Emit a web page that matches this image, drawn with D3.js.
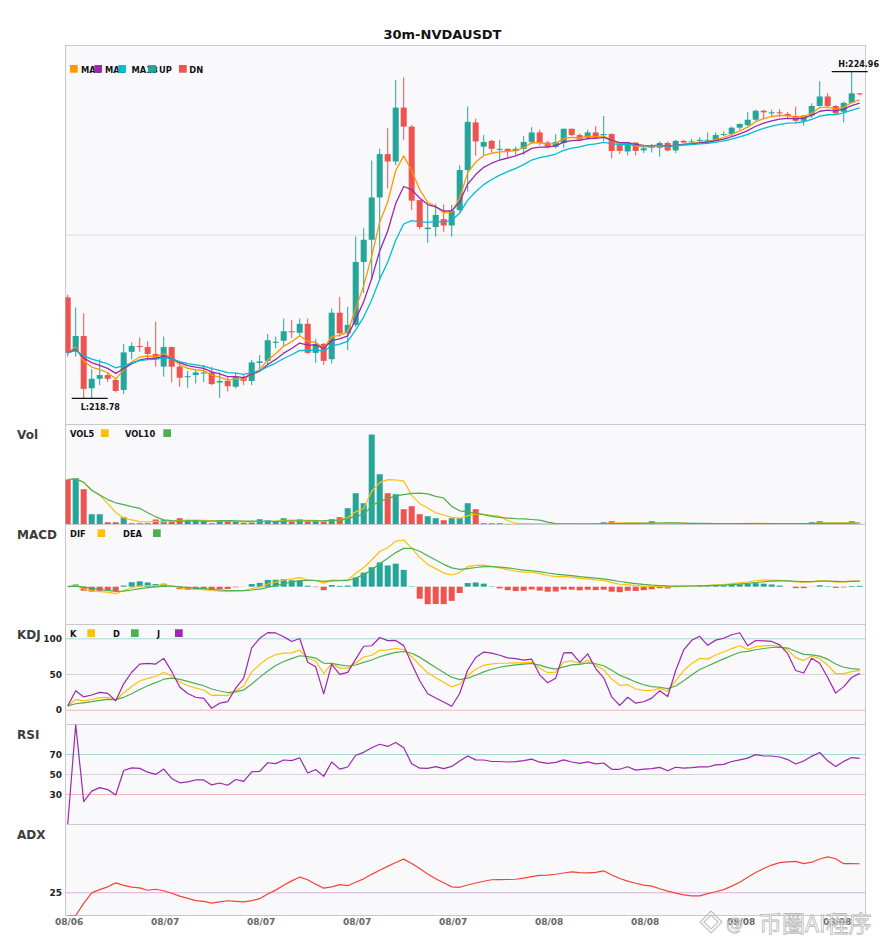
<!DOCTYPE html>
<html>
<head>
<meta charset="utf-8">
<script src="https://cdn.jsdelivr.net/npm/d3@7"></script>
<style>
  body { margin: 0; background: #fff; }
  text { font-family: "DejaVu Sans", sans-serif; }
</style>
</head>
<body>
<svg id="chart"></svg>
<script>
// 30m candles
const symbol = '30m-NVDAUSDT';
const opens = [220.69,219.66,219.96,218.97,219.15,219.22,219.13,218.94,219.66,219.77,
  219.75,219.62,219.38,219.75,219.38,219.18,219.22,219.25,219.27,219.08,
  219.11,219.00,219.17,219.11,219.45,219.49,219.83,219.87,220.05,220.02,
  220.19,219.64,219.81,219.52,220.40,220.01,220.17,221.36,221.78,222.58,
  223.40,223.26,224.28,223.92,222.53,221.98,222.02,222.17,222.05,222.34,
  223.10,224.00,223.54,223.65,223.48,223.50,223.46,223.50,223.63,223.81,
  223.62,223.54,223.61,223.88,223.76,223.71,223.81,223.76,223.78,223.57,
  223.45,223.62,223.47,223.52,223.52,223.61,223.47,223.65,223.62,223.65,
  223.65,223.65,223.76,223.78,223.90,223.95,224.05,224.22,224.17,224.19,
  224.16,224.12,224.03,224.13,224.31,224.49,224.31,224.20,224.37,224.55];
const highs = [220.74,220.50,220.39,219.33,219.52,219.27,219.16,219.81,219.84,219.93,
  219.86,220.23,219.95,219.76,219.47,219.30,219.33,219.41,219.38,219.27,
  219.19,219.27,219.22,219.51,219.60,220.00,219.95,220.29,220.26,220.29,
  220.29,219.90,219.83,220.48,220.70,220.51,221.84,222.00,223.28,223.50,
  223.89,224.80,224.85,223.95,222.53,222.47,222.46,222.45,222.44,223.19,
  224.30,224.07,223.76,223.67,223.67,223.50,223.54,223.74,223.91,223.86,
  223.65,223.78,223.88,223.88,223.79,223.86,223.93,224.12,223.79,223.57,
  223.62,223.62,223.54,223.59,223.64,223.64,223.67,223.67,223.69,223.72,
  223.81,223.81,223.83,223.92,223.98,224.20,224.24,224.24,224.24,224.25,
  224.20,224.30,224.14,224.36,224.78,224.55,224.33,224.39,224.96,224.55];
const lows = [219.57,219.57,218.78,218.78,219.03,219.09,218.89,218.86,219.52,219.66,
  219.54,219.38,219.19,219.08,219.00,218.98,219.06,219.09,219.03,218.79,
  218.91,218.97,219.03,219.03,219.33,219.41,219.73,219.76,219.92,219.95,
  219.62,219.45,219.41,219.44,219.95,219.69,220.13,220.77,221.02,221.05,
  222.75,223.19,223.67,222.34,221.98,221.72,221.84,221.93,221.84,222.31,
  222.69,223.37,223.38,223.43,223.29,223.35,223.38,223.38,223.59,223.57,
  223.52,223.51,223.52,223.74,223.65,223.67,223.69,223.64,223.32,223.40,
  223.38,223.38,223.42,223.43,223.35,223.45,223.42,223.61,223.61,223.61,
  223.62,223.64,223.74,223.74,223.86,223.92,224.03,224.06,224.11,224.10,
  224.08,223.98,223.94,224.08,224.30,224.28,224.15,224.00,224.36,224.51];
const closes = [219.64,219.96,218.96,219.15,219.22,219.15,218.92,219.65,219.77,219.75,
  219.62,219.54,219.75,219.38,219.17,219.20,219.27,219.27,219.05,219.11,
  219.01,219.19,219.11,219.46,219.48,219.88,219.85,220.05,220.03,220.19,
  219.64,219.81,219.49,220.40,220.01,220.17,221.36,221.78,222.58,223.40,
  223.26,224.28,223.92,222.52,222.02,222.01,222.25,222.05,222.33,223.10,
  224.01,223.64,223.63,223.50,223.50,223.46,223.50,223.63,223.81,223.61,
  223.54,223.63,223.88,223.76,223.68,223.81,223.71,223.78,223.46,223.46,
  223.62,223.46,223.51,223.54,223.61,223.47,223.65,223.62,223.64,223.67,
  223.67,223.76,223.78,223.90,223.97,224.05,224.22,224.19,224.19,224.17,
  224.12,224.03,224.13,224.31,224.49,224.31,224.17,224.37,224.55,224.53];
const volumes = [450,463,353,103,103,23,23,73,13,13,
  13,50,43,30,63,40,40,37,13,43,
  33,27,17,20,53,43,30,63,30,53,
  30,33,30,53,73,163,313,213,900,503,
  313,303,153,183,103,83,63,43,63,63,
  213,153,13,13,13,7,7,10,6,5,
  5,4,5,6,5,5,6,23,33,10,
  10,10,10,33,10,8,10,8,6,5,
  5,6,8,13,13,13,8,6,6,6,
  7,7,8,23,33,10,10,10,33,7];
const tickIndex = [0, 12, 24, 36, 48, 60, 72, 84, 96];
const tickLabels = ['08/06', '08/07', '08/07', '08/07', '08/07', '08/08', '08/08', '08/08', '08/08'];
const maPeriods = [5, 8, 13];
const maLabels = ['MA5', 'MA8', 'MA13'];
const volPeriods = [5, 10];
const volLabels = ['VOL5', 'VOL10'];
const macdPeriods = [8, 13, 5];
const macdLabels = ['DIF', 'DEA'];
const kdjLabels = ['K', 'D', 'J'];
const kdjTicks = [100, 50, 0];
const rsiTicks = [70, 50, 30];
const adxTicks = [25];
const panelNames = ['Vol', 'MACD', 'KDJ', 'RSI', 'ADX'];

const UP = '#26a69a', DN = '#ef5350';
const n = closes.length;

// ---- indicators
function ewm(arr, a) {
  let out = [];
  arr.forEach((v, i) => out.push(i === 0 ? v : a * v + (1 - a) * out[i - 1]));
  return out;
}
let ema = (arr, p) => ewm(arr, 2 / (p + 1));
let sma = (arr, p) => arr.map((v, i) => d3.mean(arr.slice(Math.max(0, i - p + 1), i + 1)));

let maLines = maPeriods.map(p => ema(closes, p));
let volLines = volPeriods.map(p => sma(volumes, p));

let emaFast = ema(closes, macdPeriods[0]), emaSlow = ema(closes, macdPeriods[1]);
let dif = emaFast.map((v, i) => v - emaSlow[i]);
let dea = ema(dif, macdPeriods[2]);
let hist = dif.map((v, i) => 2 * (v - dea[i]));

let rsv = closes.map((c, i) => {
  let lo = d3.min(lows.slice(Math.max(0, i - 8), i + 1)),
      hi = d3.max(highs.slice(Math.max(0, i - 8), i + 1));
  return hi === lo ? 0 : (c - lo) / (hi - lo) * 100;
});
let kLine = ewm(rsv, 1 / 3), dLine = ewm(kLine, 1 / 3);
let jLine = kLine.map((k, i) => 3 * k - 2 * dLine[i]);

let diff = closes.map((c, i) => i ? c - closes[i - 1] : 0);
let gain = ewm(diff.map(d => Math.max(d, 0)), 1 / 14),
    loss = ewm(diff.map(d => Math.max(-d, 0)), 1 / 14);
let rsi = gain.map((g, i) => g + loss[i] === 0 ? 0 : 100 * g / (g + loss[i]));

let tr = [], pdm = [], mdm = [];
closes.forEach((c, i) => {
  if (i === 0) { tr.push(highs[0] - lows[0]); pdm.push(0); mdm.push(0); return; }
  let pc = closes[i - 1], up = highs[i] - highs[i - 1], dn = lows[i - 1] - lows[i];
  tr.push(Math.max(highs[i] - lows[i], Math.abs(highs[i] - pc), Math.abs(lows[i] - pc)));
  pdm.push(up > dn && up > 0 ? up : 0);
  mdm.push(dn > up && dn > 0 ? dn : 0);
});
let aA = 2 / 15;
let atr = ewm(tr, aA);
let pdi = ewm(pdm, aA).map((v, i) => 100 * v / atr[i]),
    mdi = ewm(mdm, aA).map((v, i) => 100 * v / atr[i]);
let dx = pdi.map((p, i) => p + mdi[i] === 0 ? 0 : 100 * Math.abs(p - mdi[i]) / (p + mdi[i]));
let adx = ewm(dx, aA);

// ---- layout
const width = 885, height = 950;
const left = 65.5, right = 865.5;
const rows = {
  price: [45.5, 424.5], vol: [424.5, 524.5], macd: [524.5, 624.5],
  kdj: [624.5, 724.5], rsi: [724.5, 824.5], adx: [824.5, 915.5]
};

let svg = d3.select('#chart').attr('width', width).attr('height', height);

svg.append('text')
  .attr('x', width / 2).attr('y', 39)
  .attr('text-anchor', 'middle')
  .style('font-size', '13px').style('font-weight', 'bold').style('fill', '#111')
  .text(symbol);

let x = d3.scaleBand().domain(d3.range(n)).range([63.7, 863.7])
  .paddingInner(0.25).paddingOuter(0.125);
let bw = x.bandwidth();
let xc = i => x(i) + bw / 2;

let defs = svg.append('defs');
function panel(key, label) {
  let [top, bottom] = rows[key];
  svg.append('rect')
    .attr('x', left).attr('y', top)
    .attr('width', right - left).attr('height', bottom - top)
    .style('fill', '#f9f9fb').style('stroke', '#c9c9cd').style('stroke-width', 1);
  defs.append('clipPath').attr('id', 'clip-' + key)
    .append('rect').attr('x', left).attr('y', top)
    .attr('width', right - left).attr('height', bottom - top);
  if (label) {
    svg.append('text')
      .attr('x', 17).attr('y', top + 14.5)
      .style('font-size', '12px').style('font-weight', 'bold').style('fill', '#3c3c3c')
      .text(label);
  }
  return svg.append('g').attr('clip-path', 'url(#clip-' + key + ')');
}

function hline(g, y, v, color) {
  g.append('line')
    .attr('x1', left).attr('x2', right)
    .attr('y1', y(v)).attr('y2', y(v))
    .style('stroke', color).style('stroke-width', 1);
}

function ticks(y, values) {
  svg.selectAll(null).data(values).join('text')
    .attr('x', 62).attr('y', d => y(d))
    .attr('dy', '0.35em').attr('text-anchor', 'end')
    .style('font-size', '9px').style('font-weight', 'bold').style('fill', '#222')
    .text(d => d);
}

function series(g, y, values, color, w) {
  let line = d3.line().x((d, i) => xc(i)).y(d => y(d));
  g.append('path').datum(values)
    .attr('d', line)
    .style('fill', 'none').style('stroke', color)
    .style('stroke-width', w || 1.2).style('stroke-linejoin', 'round');
}

function legend(items, yTop) {
  items.forEach(it => {
    svg.append('text')
      .attr('x', it.tx).attr('y', yTop + 7.5)
      .style('font-size', '8.3px').style('font-weight', 'bold').style('fill', '#111')
      .text(it.label);
  });
  items.forEach(it => {
    svg.append('rect')
      .attr('x', it.sx).attr('y', yTop)
      .attr('width', 7.7).attr('height', 7.7)
      .style('fill', it.color);
  });
}

// ---- price
let gp = panel('price');
let lo = d3.min(lows), hi = d3.max(highs), rng = hi - lo;
let yP = d3.scaleLinear().domain([lo - 0.08 * rng, hi + 0.08 * rng]).range([rows.price[1], rows.price[0]]);
hline(gp, yP, (lo + hi) / 2, '#dddde0');

let candles = closes.map((c, i) => ({ i, o: opens[i], h: highs[i], l: lows[i], c }));
gp.selectAll('.wick').data(candles).join('line')
  .attr('class', 'wick')
  .attr('x1', d => xc(d.i)).attr('x2', d => xc(d.i))
  .attr('y1', d => yP(d.h)).attr('y2', d => yP(d.l))
  .style('stroke', d => d.c >= d.o ? UP : DN).style('stroke-width', 1);
gp.selectAll('.body').data(candles).join('rect')
  .attr('class', 'body')
  .attr('x', d => x(d.i)).attr('width', bw)
  .attr('y', d => yP(Math.max(d.o, d.c)))
  .attr('height', d => Math.max(1, Math.abs(yP(d.o) - yP(d.c))))
  .style('fill', d => d.c >= d.o ? UP : DN);

const maColors = ['#ff9800', '#9c27b0', '#00bcd4'];
maLines.forEach((m, k) => series(gp, yP, m, maColors[k], 1.3));

legend([
  { label: maLabels[0], color: maColors[0], sx: 70, tx: 81 },
  { label: maLabels[1], color: maColors[1], sx: 94.3, tx: 105 },
  { label: maLabels[2], color: maColors[2], sx: 118.3, tx: 131.5 },
  { label: 'UP', color: UP, sx: 148.3, tx: 159 },
  { label: 'DN', color: DN, sx: 179, tx: 189.3 }
], 65);

// high / low marks
let iHi = highs.indexOf(hi), iLo = lows.indexOf(lo);
svg.append('line')
  .attr('x1', xc(iHi) - 20).attr('x2', xc(iHi) + 16)
  .attr('y1', yP(hi)).attr('y2', yP(hi))
  .style('stroke', '#111').style('stroke-width', 1.3);
svg.append('text')
  .attr('x', xc(iHi) - 13.5).attr('y', yP(hi) - 4.5)
  .style('font-size', '8px').style('font-weight', 'bold').style('fill', '#111')
  .text('H:' + hi.toFixed(2));
svg.append('line')
  .attr('x1', xc(iLo) - 12).attr('x2', xc(iLo) + 24)
  .attr('y1', yP(lo)).attr('y2', yP(lo))
  .style('stroke', '#111').style('stroke-width', 1.3);
svg.append('text')
  .attr('x', xc(iLo) - 3).attr('y', yP(lo) + 11.5)
  .style('font-size', '8px').style('font-weight', 'bold').style('fill', '#111')
  .text('L:' + lo.toFixed(2));

// ---- volume
let gv = panel('vol', panelNames[0]);
let yV = d3.scaleLinear().domain([0, d3.max(volumes) / 0.9]).range([rows.vol[1], rows.vol[0]]);
gv.selectAll('rect').data(candles).join('rect')
  .attr('x', d => x(d.i)).attr('width', bw)
  .attr('y', d => yV(volumes[d.i]))
  .attr('height', d => yV(0) - yV(volumes[d.i]))
  .style('fill', d => d.c >= d.o ? UP : DN);
const volColors = ['#ffc107', '#4caf50'];
volLines.forEach((v, k) => series(gv, yV, v, volColors[k], 1.2));
legend([
  { label: volLabels[0], color: volColors[0], sx: 101, tx: 70 },
  { label: volLabels[1], color: volColors[1], sx: 163.3, tx: 125 }
], 429.3);

// ---- macd
let gm = panel('macd', panelNames[1]);
let dmax = d3.max(dif);
let yM = d3.scaleLinear().domain([-dmax * 37.8 / 46.7, dmax * 62.2 / 46.7]).range([rows.macd[1], rows.macd[0]]);
gm.selectAll('rect').data(hist).join('rect')
  .attr('x', (d, i) => x(i)).attr('width', bw)
  .attr('y', d => yM(Math.max(0, d)))
  .attr('height', d => Math.abs(yM(d) - yM(0)))
  .style('fill', d => d >= 0 ? UP : DN);
series(gm, yM, dif, '#ffc107', 1.2);
series(gm, yM, dea, '#4caf50', 1.2);
legend([
  { label: macdLabels[0], color: '#ffc107', sx: 97.5, tx: 70 },
  { label: macdLabels[1], color: '#4caf50', sx: 153, tx: 123 }
], 529.3);

// ---- kdj
let gk = panel('kdj', panelNames[2]);
let yK = d3.scaleLinear().domain([-20, 120]).range([rows.kdj[1], rows.kdj[0]]);
hline(gk, yK, 100, '#a6d8d6');
hline(gk, yK, 50, '#d4d4d8');
hline(gk, yK, 0, '#f6b4b4');
series(gk, yK, kLine, '#ffc107', 1.2);
series(gk, yK, dLine, '#4caf50', 1.2);
series(gk, yK, jLine, '#9c27b0', 1.2);
ticks(yK, kdjTicks);
legend([
  { label: kdjLabels[0], color: '#ffc107', sx: 87.3, tx: 70 },
  { label: kdjLabels[1], color: '#4caf50', sx: 131, tx: 113 },
  { label: kdjLabels[2], color: '#9c27b0', sx: 175, tx: 157 }
], 629.3);

// ---- rsi
let gr = panel('rsi', panelNames[3]);
let yR = d3.scaleLinear().domain([0, 100]).range([rows.rsi[1], rows.rsi[0]]);
hline(gr, yR, 70, '#a6d8d6');
hline(gr, yR, 50, '#d4d4d8');
hline(gr, yR, 30, '#f6b4b4');
series(gr, yR, rsi, '#9c27b0', 1.2);
ticks(yR, rsiTicks);

// ---- adx
let ga = panel('adx', panelNames[4]);
let yA = d3.scaleLinear().domain([0, 100]).range([rows.adx[1], rows.adx[0]]);
hline(ga, yA, 25, '#dcaee4');
series(ga, yA, adx, '#f44336', 1.2);
ticks(yA, adxTicks);

// ---- time axis
svg.selectAll('.xt').data(tickIndex).join('text')
  .attr('class', 'xt')
  .attr('x', d => xc(d) + 1.5).attr('y', 925)
  .attr('text-anchor', 'middle')
  .style('font-size', '9px').style('font-weight', 'bold').style('fill', '#666')
  .text((d, k) => tickLabels[k]);

// ---- watermark
let wm = svg.append('g').style('opacity', 0.85);
wm.append('path')
  .attr('d', 'M711,911 L722,922 L711,933 L700,922 Z M711,915 L718,922 L711,929 L704,922 Z')
  .style('fill', 'none').style('stroke', '#b8b8b8').style('stroke-width', 1.2);
wm.append('text')
  .attr('x', 726).attr('y', 930)
  .style('font-size', '17px').style('fill', '#fff')
  .style('stroke', '#b0b0b0').style('stroke-width', 0.8)
  .text('@');
wm.append('text')
  .attr('x', 759).attr('y', 932)
  .style('font-family', '"Noto Sans CJK SC", sans-serif')
  .style('font-size', '23px').style('fill', '#fff')
  .style('stroke', '#b0b0b0').style('stroke-width', 0.8)
  .text('币圈AI程序');
</script>
</body>
</html>
